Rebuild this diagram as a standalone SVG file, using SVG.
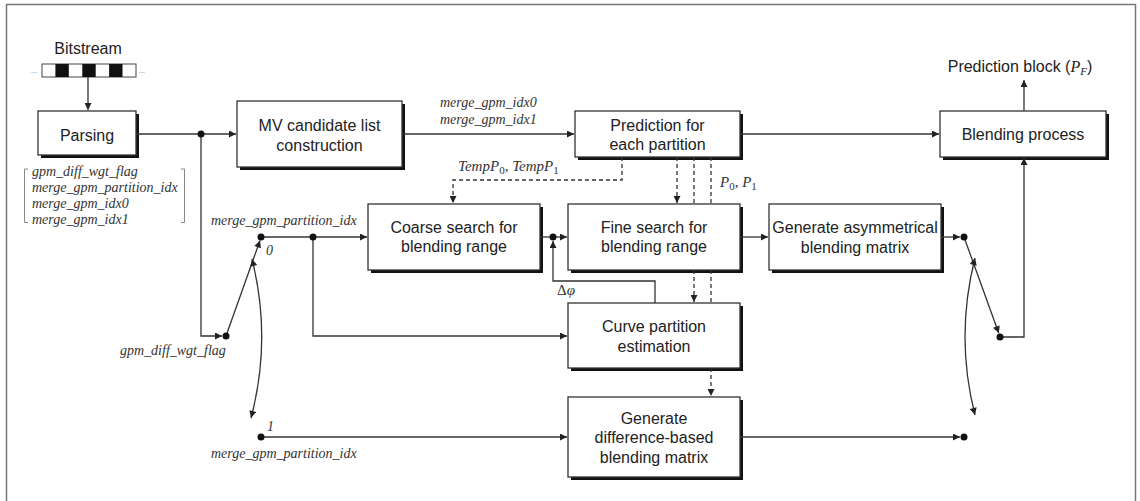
<svg xmlns="http://www.w3.org/2000/svg" width="1140" height="501" viewBox="0 0 1140 501">
<style>
.sh{fill:#111}
.bx{fill:#fff;stroke:#333;stroke-width:1.3}
.t{font-family:"Liberation Sans",Arial,sans-serif;font-size:16px;fill:#222;text-anchor:middle}
.i{font-family:"Liberation Serif","Times New Roman",serif;font-style:italic;font-size:14px;fill:#333}
.m{font-family:"Liberation Serif","Times New Roman",serif;font-style:italic;font-size:15px;fill:#333}
.ln{fill:none;stroke:#333;stroke-width:1.3}
.ds{fill:none;stroke:#333;stroke-width:1.3;stroke-dasharray:4 3}
.dot{fill:#111}
</style>
<defs>
<marker id="ah" viewBox="0 0 10 10" refX="10" refY="5" markerWidth="8" markerHeight="7" orient="auto-start-reverse" markerUnits="userSpaceOnUse"><path d="M0,0 L10,5 L0,10z" fill="#222"/></marker>
</defs>
<path d="M6.5,501 V4.5 H1135.5 V501" fill="none" stroke="#777" stroke-width="1.5"/>

<g id="bitstream">
<text class="t" x="88" y="54">Bitstream</text>
<rect x="42" y="64" width="94" height="13" fill="#fff" stroke="#444" stroke-width="1"/>
<rect x="55.4" y="64" width="13.4" height="13" fill="#111"/>
<rect x="82.3" y="64" width="13.4" height="13" fill="#111"/>
<rect x="109.1" y="64" width="13.4" height="13" fill="#111"/>
<text x="31" y="73" font-family="Liberation Sans,sans-serif" font-size="7" fill="#666">...</text>
<text x="139" y="73" font-family="Liberation Sans,sans-serif" font-size="7" fill="#666">...</text>
</g>

<g id="parsing">
<rect class="sh" x="41" y="114" width="98" height="44"/>
<rect class="bx" x="38" y="111" width="98" height="44"/>
<text class="t" x="87" y="140.5">Parsing</text>
</g>

<g id="syntax-list">
<path d="M28,169 H24.5 V222.5 H28" fill="none" stroke="#888" stroke-width="1"/>
<path d="M181,169 H184.5 V222.5 H181" fill="none" stroke="#888" stroke-width="1"/>
<text class="i" x="32" y="176">gpm_diff_wgt_flag</text>
<text class="i" x="32" y="192">merge_gpm_partition_idx</text>
<text class="i" x="32" y="208">merge_gpm_idx0</text>
<text class="i" x="32" y="224">merge_gpm_idx1</text>
</g>

<g id="mv">
<rect class="sh" x="240" y="104" width="165" height="66"/>
<rect class="bx" x="237" y="101" width="165" height="66"/>
<text class="t" x="319.5" y="130.5">MV candidate list</text>
<text class="t" x="319.5" y="150.5">construction</text>
</g>

<g id="prediction">
<rect class="sh" x="578" y="114" width="165" height="46"/>
<rect class="bx" x="575" y="111" width="165" height="46"/>
<text class="t" x="657.5" y="130.5">Prediction for</text>
<text class="t" x="657.5" y="149.5">each partition</text>
</g>

<g id="blending">
<rect class="sh" x="943" y="114" width="166" height="46"/>
<rect class="bx" x="940" y="111" width="166" height="46"/>
<text class="t" x="1023" y="139.5">Blending process</text>
</g>

<g id="output-label">
<text class="t" x="1020" y="71.5">Prediction block (<tspan font-family="Liberation Serif,serif" font-style="italic">P</tspan><tspan font-family="Liberation Serif,serif" font-style="italic" font-size="11" dy="3">F</tspan><tspan dy="-3">)</tspan></text>
</g>

<g id="coarse">
<rect class="sh" x="371" y="207" width="172" height="66"/>
<rect class="bx" x="368" y="204" width="172" height="66"/>
<text class="t" x="454" y="232.5">Coarse search for</text>
<text class="t" x="454" y="252">blending range</text>
</g>

<g id="fine">
<rect class="sh" x="571" y="207" width="172" height="66"/>
<rect class="bx" x="568" y="204" width="172" height="66"/>
<text class="t" x="654" y="232.5">Fine search for</text>
<text class="t" x="654" y="252">blending range</text>
</g>

<g id="asym">
<rect class="sh" x="772" y="207" width="172" height="66"/>
<rect class="bx" x="769" y="204" width="172" height="66"/>
<text class="t" x="855" y="233">Generate asymmetrical</text>
<text class="t" x="855" y="252.5">blending matrix</text>
</g>

<g id="curve">
<rect class="sh" x="571" y="306" width="172" height="65"/>
<rect class="bx" x="568" y="303" width="172" height="65"/>
<text class="t" x="654" y="332">Curve partition</text>
<text class="t" x="654" y="351.5">estimation</text>
</g>

<g id="diff">
<rect class="sh" x="571" y="400" width="172" height="80"/>
<rect class="bx" x="568" y="397" width="172" height="80"/>
<text class="t" x="654" y="423.5">Generate</text>
<text class="t" x="654" y="443">difference-based</text>
<text class="t" x="654" y="463">blending matrix</text>
</g>

<g id="connectors">
<path class="ln" d="M88,77 V110" marker-end="url(#ah)"/>
<path class="ln" d="M136,134 H236" marker-end="url(#ah)"/>
<path class="ln" d="M201,134 V336 H222" marker-end="url(#ah)"/>
<path class="ln" d="M402,134 H574" marker-end="url(#ah)"/>
<path class="ln" d="M740,134 H939" marker-end="url(#ah)"/>
<path class="ln" d="M1024,111 V80" marker-end="url(#ah)"/>
<path class="ln" d="M1000,337 H1024 V158" marker-end="url(#ah)"/>
<path class="ln" d="M226,336 L260,240.5" marker-end="url(#ah)"/>
<path class="ln" d="M252,259 Q272,339 251,418" marker-start="url(#ah)" marker-end="url(#ah)"/>
<path class="ln" d="M261,237 H367" marker-end="url(#ah)"/>
<path class="ln" d="M313,237 V336 H567" marker-end="url(#ah)"/>
<path class="ln" d="M261,437 H567" marker-end="url(#ah)"/>
<path class="ln" d="M540,237 H567" marker-end="url(#ah)"/>
<path class="ln" d="M655,303 V281 H553 V241" marker-end="url(#ah)"/>
<path class="ln" d="M740,237 H768" marker-end="url(#ah)"/>
<path class="ln" d="M941,237 H960" marker-end="url(#ah)"/>
<path class="ln" d="M964,237 L998.8,333.2" marker-end="url(#ah)"/>
<path class="ln" d="M975,258 Q955,337 975,415" marker-start="url(#ah)" marker-end="url(#ah)"/>
<path class="ln" d="M740,437 H960" marker-end="url(#ah)"/>
<path class="ds" d="M622,157 V180 H453 V203" marker-end="url(#ah)"/>
<path class="ds" d="M677,157 V203" marker-end="url(#ah)"/>
<path class="ds" d="M694,157 V204"/>
<path class="ds" d="M694,270 V302" marker-end="url(#ah)"/>
<path class="ds" d="M711,157 V204"/>
<path class="ds" d="M711,270 V303"/>
<path class="ds" d="M711,368 V396" marker-end="url(#ah)"/>
<circle class="dot" cx="201" cy="134" r="3.5"/>
<circle class="dot" cx="226" cy="336" r="3.5"/>
<circle class="dot" cx="261" cy="237" r="3.5"/>
<circle class="dot" cx="313" cy="237" r="3.5"/>
<circle class="dot" cx="261" cy="437" r="3.5"/>
<circle class="dot" cx="553" cy="237" r="3.5"/>
<circle class="dot" cx="964" cy="237" r="3.5"/>
<circle class="dot" cx="1000" cy="337" r="3.5"/>
<circle class="dot" cx="964" cy="437" r="3.5"/>
</g>

<g id="labels">
<text class="i" x="440" y="107">merge_gpm_idx0</text>
<text class="i" x="440" y="124">merge_gpm_idx1</text>
<text class="i" x="211" y="225">merge_gpm_partition_idx</text>
<text class="i" x="266" y="255">0</text>
<text class="i" x="120" y="355">gpm_diff_wgt_flag</text>
<text class="i" x="267" y="431">1</text>
<text class="i" x="211" y="458">merge_gpm_partition_idx</text>
<text class="m" x="458" y="171">TempP<tspan font-style="normal" font-size="11" dy="3">0</tspan><tspan dy="-3">, TempP</tspan><tspan font-style="normal" font-size="11" dy="3">1</tspan></text>
<text class="m" x="720" y="187">P<tspan font-style="normal" font-size="11" dy="3">0</tspan><tspan dy="-3">, P</tspan><tspan font-style="normal" font-size="11" dy="3">1</tspan></text>
<text class="m" x="557" y="295"><tspan font-style="normal">Δ</tspan>φ</text>
</g>
</svg>
